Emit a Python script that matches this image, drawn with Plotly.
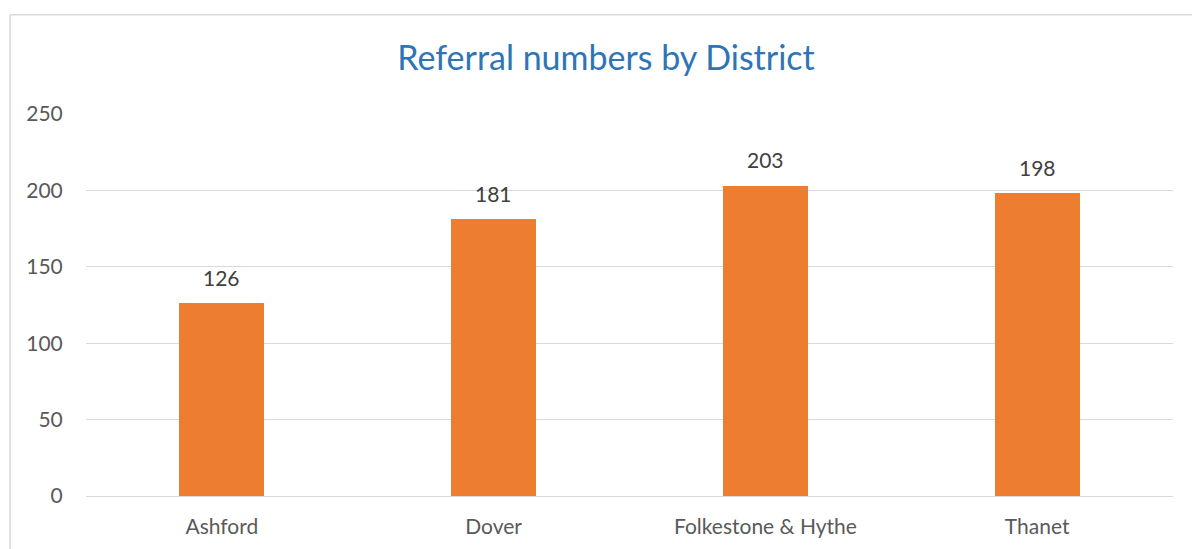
import plotly.graph_objects as go

categories = ["Ashford", "Dover", "Folkestone & Hythe", "Thanet"]
referrals = [126, 181, 203, 198]
y_ticks = [0, 50, 100, 150, 200, 250]

FONT = "Lato, 'Open Sans', sans-serif"
W, H = 1192, 549
L, R, T, B = 86, 1192 - 1173.5, 113.5, 549 - 496
pw, ph = W - L - R, H - T - B

fig = go.Figure(go.Bar(
    x=categories, y=referrals,
    marker=dict(color="#ED7D31", line=dict(width=0)),
    width=0.3125,
    cliponaxis=False,
))

for c, v in zip(categories, referrals):
    fig.add_annotation(x=c, y=v, text=str(v), showarrow=False,
                       yanchor="middle", yshift=26,
                       font=dict(family=FONT, size=21, color="#404040"))

fig.update_layout(
    width=W, height=H,
    margin=dict(l=L, r=R, t=T, b=B, autoexpand=False),
    paper_bgcolor="white", plot_bgcolor="white",
    showlegend=False,
    title=dict(text="Referral numbers by District", x=606 / W, xanchor="center",
               y=1 - 58 / H, yanchor="middle",
               font=dict(family=FONT, size=34, color="#2E75B6")),
    xaxis=dict(showgrid=False, showline=False, zeroline=False,
               tickfont=dict(family=FONT, size=21, color="#595959"),
               ticks="outside", ticklen=12, tickcolor="rgba(0,0,0,0)"),
    yaxis=dict(range=[0, 250], tickvals=y_ticks, showgrid=True,
               gridcolor="#D9D9D9", gridwidth=1, zeroline=True,
               zerolinecolor="#D9D9D9", zerolinewidth=1, showline=False,
               tickfont=dict(family=FONT, size=21, color="#595959"),
               ticks="outside", ticklen=18, tickcolor="rgba(0,0,0,0)"),
    bargap=0,
)

# chart-area border (left and top edges visible in the reference)
bx = (10 - L) / pw
by = (496 - 14) / ph
fig.add_shape(type="line", xref="paper", yref="paper", x0=bx, x1=2, y0=by, y1=by,
              line=dict(color="#D9D9D9", width=1.5))
fig.add_shape(type="line", xref="paper", yref="paper", x0=bx, x1=bx, y0=-1, y1=by,
              line=dict(color="#D9D9D9", width=1.5))

fig.write_html("out.html", config={"displayModeBar": False},
               post_script="document.body.style.margin='0';document.body.style.overflow='hidden';")
